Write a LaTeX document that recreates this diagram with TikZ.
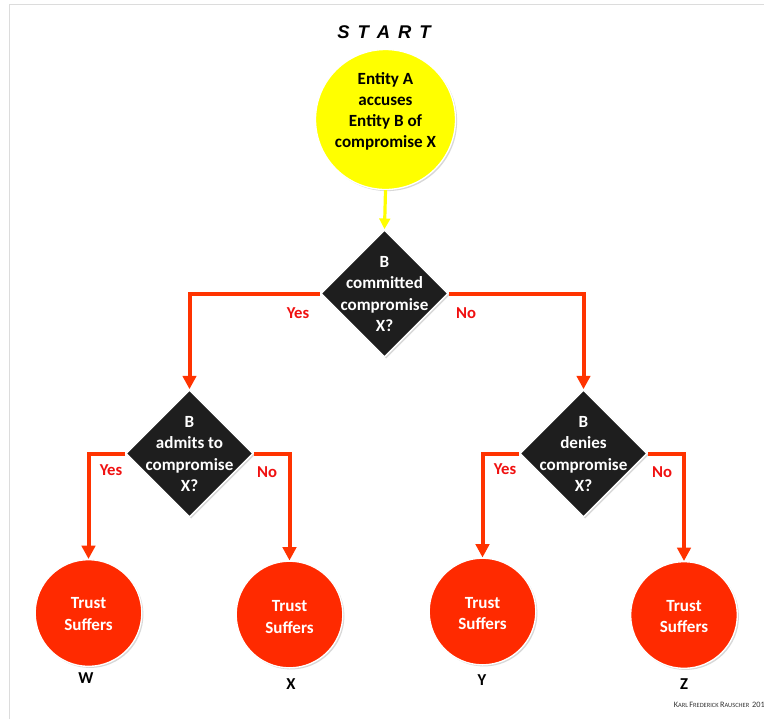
\documentclass[tikz,border=0pt]{standalone}
\usepackage{fontspec}
\setmainfont{Carlito}
\newfontfamily\startfont{Liberation Sans}
\usetikzlibrary{shapes.geometric,arrows.meta,shadows}

\definecolor{sunyellow}{HTML}{FFFF00}
\definecolor{alarmred}{HTML}{FF2A00}
\definecolor{flowred}{HTML}{FF3300}
\definecolor{answerred}{HTML}{F01010}
\definecolor{darkbox}{HTML}{1E1E1E}
\definecolor{framegray}{HTML}{DCDCDC}

\tikzset{
  x=0.75pt, y=-0.75pt,
  softshadow/.style={drop shadow={opacity=0.3, shadow xshift=1.2pt, shadow yshift=-1.2pt}},
  startcircle/.style={circle, fill=sunyellow, draw=white, line width=1pt, minimum size=105pt, inner sep=0pt, softshadow},
  endcircle/.style={circle, fill=alarmred, draw=white, line width=1pt, minimum size=80pt, inner sep=0pt, softshadow},
  decision/.style={diamond, aspect=1, fill=darkbox, draw=white, line width=1pt, minimum width=95.5pt, minimum height=95.5pt, inner sep=0pt, softshadow},
  bodytext/.style={align=center, inner sep=0pt, font=\bfseries\fontsize{12.8}{15.8}\selectfont},
  darktext/.style={bodytext, text=black},
  lighttext/.style={bodytext, text=white},
  answer/.style={inner sep=0pt, text=answerred, font=\bfseries\fontsize{12.5}{14}\selectfont},
  outcome/.style={inner sep=0pt, text=black, font=\bfseries\fontsize{12.5}{14}\selectfont},
  flow/.style={draw=flowred, line width=3pt, line cap=butt, line join=miter, -{Triangle[width=10pt,length=10pt]}},
  feed/.style={draw=sunyellow, line width=2.4pt, -{Triangle[width=8pt,length=8pt]}},
}

\begin{document}
\begin{tikzpicture}
\useasboundingbox (0,0) rectangle (764,719);
\fill[white] (0,0) rectangle (764,719);

% slide frame
\draw[framegray, line width=1.2pt] (9.5,719) -- (9.5,4.5) -- (764,4.5);

% heading
\node[inner sep=0pt, font=\startfont\bfseries\itshape\fontsize{13.8}{14}\selectfont] (start) at (384,32)
  {S\hspace{6pt}T\hspace{6pt}A\hspace{6pt}R\hspace{6pt}T};

% start circle
\node[startcircle] (accuse) at (385.5,119.5) {};
\node[darktext] (accusetext) at (385.5,111) {Entity A\\accuses\\Entity B of\\compromise X};

% decisions
\node[decision] (q1) at (384.5,293.5) {};
\node[lighttext] (q1text) at (384.5,294) {B\\committed\\compromise\\X?};
\node[decision] (q2) at (189.5,453.5) {};
\node[lighttext] (q2text) at (189.5,454) {B\\admits to\\compromise\\X?};
\node[decision] (q3) at (583.5,453.5) {};
\node[lighttext] (q3text) at (583.5,454) {B\\denies\\compromise\\X?};

% outcomes
\node[endcircle] (w) at (88.5,613) {};
\node[lighttext] (wtext) at (88.5,614) {Trust\\Suffers};
\node[endcircle] (x) at (289.5,614.5) {};
\node[lighttext] (xtext) at (289.5,617) {Trust\\Suffers};
\node[endcircle] (y) at (482.5,611.5) {};
\node[lighttext] (ytext) at (482.5,613.5) {Trust\\Suffers};
\node[endcircle] (z) at (684,615) {};
\node[lighttext] (ztext) at (684,616.5) {Trust\\Suffers};

\node[outcome] (wlabel) at (86,678) {W};
\node[outcome] (xlabel) at (291,684) {X};
\node[outcome] (ylabel) at (482,680) {Y};
\node[outcome] (zlabel) at (684,684) {Z};

% connectors
\draw[feed] (accuse.south) -- (q1.north);
\draw[flow] (q1.west) -| (q2.north);
\draw[flow] (q1.east) -| (q3.north);
\draw[flow] (q2.west) -| (w.north);
\draw[flow] (q2.east) -| (x.north);
\draw[flow] (q3.west) -| (y.north);
\draw[flow] (q3.east) -| (z.north);

% answers
\node[answer] (yes1) at (298,313) {Yes};
\node[answer] (no1) at (466,313) {No};
\node[answer] (yes2) at (111,470) {Yes};
\node[answer] (no2) at (267,472) {No};
\node[answer] (yes3) at (505,469) {Yes};
\node[answer] (no3) at (662,472) {No};

% credit line
\node[anchor=base east, inner sep=0pt, text=black!80] (credit) at (765,707)
  {\fontsize{6.2}{7}\selectfont K\fontsize{4.8}{6}\selectfont ARL \fontsize{6.2}{7}\selectfont F\fontsize{4.8}{6}\selectfont REDERICK \fontsize{6.2}{7}\selectfont R\fontsize{4.8}{6}\selectfont AUSCHER\ \ \fontsize{6.2}{7}\selectfont 201};
\end{tikzpicture}
\end{document}
